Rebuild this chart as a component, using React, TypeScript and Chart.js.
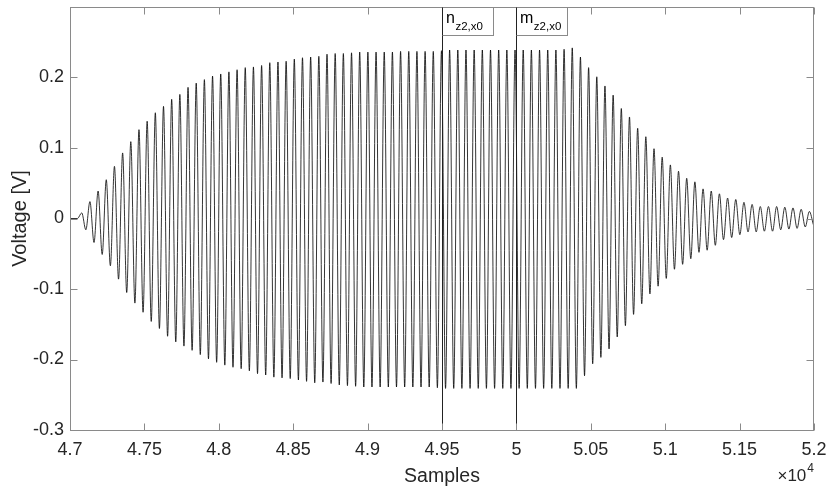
import React, { useEffect, useRef } from "react";
import { Chart, registerables } from "chart.js";

Chart.register(...registerables);

// ---- axis setup ----
const X_MIN = 47000;
const X_MAX = 52000;
const X_TICK_STEP = 500;
const Y_MIN = -0.3;
const Y_MAX = 0.3;
const Y_TICKS = [-0.3, -0.2, -0.1, 0, 0.1, 0.2];

// ---- marker lines ----
const MARKER_SAMPLES = [49500, 50000];
const MARKER_MAIN = ["n", "m"];
const MARKER_SUB = ["z2,x0", "z2,x0"];

// ---- signal ----
const LEAD_IN_SAMPLES = [47000, 47050];
const LEAD_IN_VALUES = [0, 0];
const FIRST_PEAK_SAMPLE = 47079;
const CYCLE_SAMPLES = 54.94;

// value of each successive maximum (one per cycle)
const PEAKS = [
  0.008, 0.024, 0.039, 0.055, 0.074, 0.093, 0.109, 0.126, 0.138, 0.150,
  0.159, 0.169, 0.176, 0.186, 0.192, 0.197, 0.202, 0.205, 0.208, 0.211,
  0.214, 0.215, 0.217, 0.221, 0.222, 0.223, 0.226, 0.228, 0.229, 0.230,
  0.233, 0.234, 0.234, 0.235, 0.236, 0.236, 0.236, 0.236, 0.236, 0.237,
  0.237, 0.237, 0.237, 0.237, 0.238, 0.239, 0.239, 0.239, 0.239, 0.239,
  0.239, 0.239, 0.239, 0.239, 0.239, 0.239, 0.239, 0.239, 0.239, 0.240,
  0.242, 0.229, 0.214, 0.201, 0.188, 0.175, 0.156, 0.144, 0.128, 0.116,
  0.099, 0.087, 0.076, 0.067, 0.057, 0.052, 0.042, 0.039, 0.035, 0.029,
  0.027, 0.023, 0.020, 0.017, 0.017, 0.017, 0.016, 0.015, 0.013, 0.010,
];

// value of each successive minimum (half a cycle after each maximum)
const TROUGHS = [
  -0.016, -0.034, -0.051, -0.067, -0.086, -0.105, -0.120, -0.133, -0.146, -0.156,
  -0.167, -0.175, -0.181, -0.187, -0.193, -0.199, -0.204, -0.208, -0.211, -0.213,
  -0.216, -0.220, -0.222, -0.225, -0.226, -0.227, -0.229, -0.231, -0.233, -0.232,
  -0.234, -0.236, -0.237, -0.238, -0.239, -0.239, -0.239, -0.239, -0.239, -0.239,
  -0.239, -0.239, -0.239, -0.240, -0.241, -0.241, -0.241, -0.241, -0.241, -0.241,
  -0.241, -0.241, -0.241, -0.241, -0.241, -0.241, -0.241, -0.241, -0.241, -0.241,
  -0.241, -0.223, -0.206, -0.197, -0.185, -0.168, -0.152, -0.136, -0.121, -0.107,
  -0.096, -0.085, -0.072, -0.065, -0.057, -0.048, -0.045, -0.038, -0.030, -0.027,
  -0.023, -0.019, -0.019, -0.018, -0.018, -0.016, -0.015, -0.014, -0.012, -0.009,
];

const FONT = "'Liberation Sans', Arial, Helvetica, sans-serif";
const TEXT_COLOR = "#262626";
const AXIS_COLOR = "#8a8a8a";

function buildPoints() {
  const pts: { x: number; y: number }[] = [];
  LEAD_IN_SAMPLES.forEach((s, i) => pts.push({ x: s, y: LEAD_IN_VALUES[i] }));
  for (let k = 0; k < PEAKS.length; k++) {
    pts.push({ x: FIRST_PEAK_SAMPLE + k * CYCLE_SAMPLES, y: PEAKS[k] });
    pts.push({ x: FIRST_PEAK_SAMPLE + (k + 0.5) * CYCLE_SAMPLES, y: TROUGHS[k] });
  }
  return pts;
}

function zeroPadding(s: any) {
  s.paddingTop = 0;
  s.paddingBottom = 0;
  s.paddingLeft = 0;
  s.paddingRight = 0;
}

const framePlugin = {
  id: "matlabFrame",
  afterDatasetsDraw(chart: any) {
    const { ctx, chartArea, scales } = chart;
    const { left, right, top, bottom } = chartArea;
    const xs = scales.x;
    const ys = scales.y;
    ctx.save();
    // marker lines
    ctx.strokeStyle = "#222";
    ctx.lineWidth = 1;
    MARKER_SAMPLES.forEach((s) => {
      const px = Math.round(xs.getPixelForValue(s)) + 0.5;
      ctx.beginPath();
      ctx.moveTo(px, top);
      ctx.lineTo(px, bottom);
      ctx.stroke();
    });
    // box
    ctx.strokeStyle = AXIS_COLOR;
    ctx.lineWidth = 1;
    const L = Math.round(left) + 0.5;
    const R = Math.round(right) - 0.5;
    const T = Math.round(top) + 0.5;
    const B = Math.round(bottom) + 0.5;
    ctx.strokeRect(L, T, R - L, B - T);
    // ticks
    const tl = 7;
    ctx.beginPath();
    for (let v = X_MIN; v <= X_MAX; v += X_TICK_STEP) {
      const px = Math.round(xs.getPixelForValue(v)) + 0.5;
      ctx.moveTo(px, B);
      ctx.lineTo(px, B - tl);
      ctx.moveTo(px, T);
      ctx.lineTo(px, T + tl);
    }
    Y_TICKS.forEach((v) => {
      const py = Math.round(ys.getPixelForValue(v)) + 0.5;
      ctx.moveTo(L, py);
      ctx.lineTo(L + tl, py);
      ctx.moveTo(R, py);
      ctx.lineTo(R - tl, py);
    });
    ctx.stroke();
    // marker label boxes
    MARKER_SAMPLES.forEach((s, i) => {
      const px = Math.round(xs.getPixelForValue(s)) + 0.5;
      const bw = 51;
      const bh = 28;
      ctx.fillStyle = "#fff";
      ctx.fillRect(px, T, bw, bh);
      ctx.strokeStyle = AXIS_COLOR;
      ctx.strokeRect(px, T, bw, bh);
      ctx.strokeStyle = "#222";
      ctx.beginPath();
      ctx.moveTo(px, T);
      ctx.lineTo(px, T + bh);
      ctx.stroke();
      ctx.fillStyle = "#000";
      ctx.textBaseline = "alphabetic";
      ctx.textAlign = "left";
      ctx.font = `16px ${FONT}`;
      const mainX = px + 3.5;
      ctx.fillText(MARKER_MAIN[i], mainX, top + 16);
      const mw = ctx.measureText(MARKER_MAIN[i]).width;
      ctx.font = `11.5px ${FONT}`;
      ctx.fillText(MARKER_SUB[i], mainX + mw + 0.5, top + 22.5);
    });
    // x10^4 exponent label
    ctx.fillStyle = TEXT_COLOR;
    ctx.textAlign = "right";
    ctx.textBaseline = "alphabetic";
    ctx.font = `12px ${FONT}`;
    const supW = ctx.measureText("4").width;
    ctx.fillText("4", right, bottom + 42);
    ctx.font = `17px ${FONT}`;
    ctx.fillText("\u00d710", right - supW - 1, bottom + 51);
    ctx.restore();
  },
};

export default function App() {
  const ref = useRef<HTMLCanvasElement | null>(null);
  useEffect(() => {
    if (!ref.current) return;
    const chart = new Chart(ref.current, {
      type: "line",
      data: {
        datasets: [
          {
            data: buildPoints(),
            borderColor: "#000",
            borderWidth: 0.8,
            pointRadius: 0,
            fill: false,
            cubicInterpolationMode: "monotone",
          },
        ],
      },
      options: {
        animation: false,
        responsive: false,
        maintainAspectRatio: false,
        events: [],
        layout: { padding: { top: 7, right: 14, left: 0, bottom: 0 } },
        plugins: { legend: { display: false }, tooltip: { enabled: false } },
        scales: {
          x: {
            type: "linear",
            min: X_MIN,
            max: X_MAX,
            border: { display: false },
            grid: { display: false, drawTicks: false },
            ticks: {
              stepSize: X_TICK_STEP,
              autoSkip: false,
              maxRotation: 0,
              padding: 9,
              color: TEXT_COLOR,
              font: { family: FONT, size: 18 },
              callback: (v: any) => String(Math.round(Number(v) / 10) / 1000),
            },
            title: {
              display: true,
              text: "Samples",
              color: TEXT_COLOR,
              font: { family: FONT, size: 19.5 },
              padding: { top: 0, bottom: -2 },
            },
            afterFit: (s: any) => {
              s.height = 56;
              zeroPadding(s);
            },
          },
          y: {
            type: "linear",
            min: Y_MIN,
            max: Y_MAX,
            border: { display: false },
            grid: { display: false, drawTicks: false },
            afterBuildTicks: (s: any) => {
              s.ticks = Y_TICKS.map((v) => ({ value: v }));
            },
            ticks: {
              padding: 6,
              color: TEXT_COLOR,
              font: { family: FONT, size: 18 },
              callback: (v: any) => String(Math.round(Number(v) * 10) / 10),
            },
            title: {
              display: true,
              text: "Voltage [V]",
              color: TEXT_COLOR,
              font: { family: FONT, size: 20 },
              padding: { top: 8, bottom: 0 },
            },
            afterFit: (s: any) => {
              s.width = 70;
              zeroPadding(s);
            },
          },
        },
      },
      plugins: [framePlugin],
    });
    return () => chart.destroy();
  }, []);
  return (
    <div style={{ position: "absolute", left: 0, top: 0, width: 828, height: 486, background: "#fff" }}>
      <canvas ref={ref} width={828} height={486} style={{ width: 828, height: 486 }} />
    </div>
  );
}
